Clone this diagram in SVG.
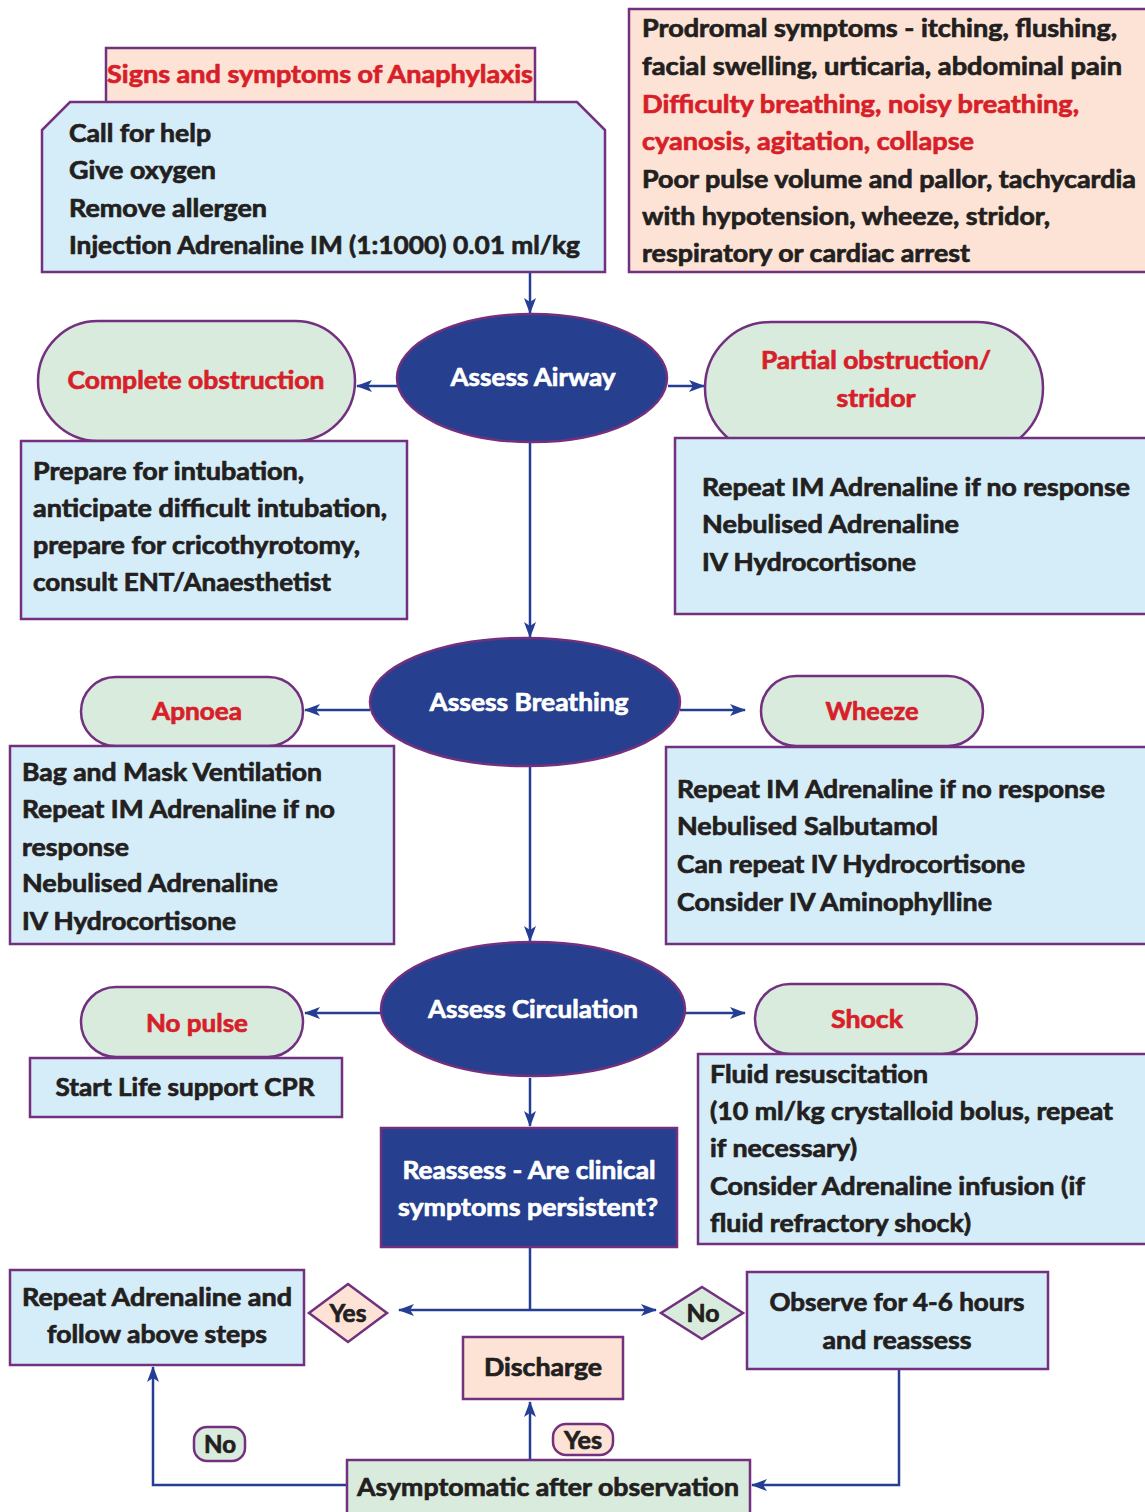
<svg xmlns="http://www.w3.org/2000/svg" width="1145" height="1512" viewBox="0 0 1145 1512">
  <defs>
    <marker id="arrow" viewBox="0 0 16 12" refX="15" refY="6" markerWidth="16" markerHeight="12" markerUnits="userSpaceOnUse" orient="auto">
      <path d="M0,0 L16,6 L0,12 L4,6 Z" fill="#233e93"/>
    </marker>
    <style>
      text { font-family: "Lato", "Liberation Sans", sans-serif; font-weight: 700; font-size: 24px; stroke-width: 0.7; stroke-linejoin: round; }
      .body { fill: #231f20; stroke: #231f20; }
      .red { fill: #d71f2a; stroke: #d71f2a; }
      .white { fill: #ffffff; stroke: #ffffff; }
      .mid { text-anchor: middle; }
      .box-blue { fill: #d5ecf9; stroke: #73307f; stroke-width: 2.5; }
      .box-green { fill: #d8ebdd; stroke: #73307f; stroke-width: 2.5; }
      .box-peach { fill: #fde3d5; stroke: #73307f; stroke-width: 2.5; }
      .box-dark { fill: #263f8e; stroke: #73307f; stroke-width: 2.5; }
      .link { fill: none; stroke: #233e93; stroke-width: 2.5; }
      .link-arrow { fill: none; stroke: #233e93; stroke-width: 2.5; marker-end: url(#arrow); }
    </style>
  </defs>
  <rect width="1145" height="1512" fill="#ffffff"/>

  <!-- connectors -->
  <g id="connectors">
    <path class="link-arrow" d="M530,272 V313"/>
    <path class="link-arrow" d="M398,386 H357"/>
    <path class="link-arrow" d="M668,386 H704"/>
    <path class="link-arrow" d="M530,443 V637"/>
    <path class="link-arrow" d="M370,710 H305"/>
    <path class="link-arrow" d="M680,710 H745"/>
    <path class="link-arrow" d="M530,766 V941"/>
    <path class="link-arrow" d="M381,1013 H305"/>
    <path class="link-arrow" d="M685,1013 H745"/>
    <path class="link-arrow" d="M530,1078 V1126"/>
    <path class="link" d="M530,1247 V1310"/>
    <path class="link-arrow" d="M530,1310 H399"/>
    <path class="link-arrow" d="M530,1310 H656"/>
    <path class="link-arrow" d="M530,1460 V1402"/>
    <path class="link-arrow" d="M347,1485 H153 V1367"/>
    <path class="link-arrow" d="M899,1370 V1485 H752"/>
  </g>

  <!-- header and first actions -->
  <g id="title">
    <rect class="box-peach" x="106" y="48" width="429" height="55"/>
    <text class="red mid" x="320" y="83" textLength="426" lengthAdjust="spacingAndGlyphs">Signs and symptoms of Anaphylaxis</text>
  </g>
  <g id="initial-actions">
    <path class="box-blue" d="M70,102 H577 L605,130 V272 H42 V130 Z"/>
    <text class="body" x="69" y="142" textLength="142" lengthAdjust="spacingAndGlyphs">Call for help</text>
    <text class="body" x="69" y="179" textLength="147" lengthAdjust="spacingAndGlyphs">Give oxygen</text>
    <text class="body" x="69" y="217" textLength="198" lengthAdjust="spacingAndGlyphs">Remove allergen</text>
    <text class="body" x="69" y="254" textLength="511" lengthAdjust="spacingAndGlyphs">Injection Adrenaline IM (1:1000) 0.01 ml/kg</text>
  </g>
  <g id="symptoms">
    <rect class="box-peach" x="629" y="9" width="520" height="263"/>
    <text class="body" x="642" y="37" textLength="475" lengthAdjust="spacingAndGlyphs">Prodromal symptoms - itching, flushing,</text>
    <text class="body" x="642" y="75" textLength="480" lengthAdjust="spacingAndGlyphs">facial swelling, urticaria, abdominal pain</text>
    <text class="red" x="642" y="113" textLength="437" lengthAdjust="spacingAndGlyphs">Difficulty breathing, noisy breathing,</text>
    <text class="red" x="642" y="150" textLength="332" lengthAdjust="spacingAndGlyphs">cyanosis, agitation, collapse</text>
    <text class="body" x="642" y="188" textLength="494" lengthAdjust="spacingAndGlyphs">Poor pulse volume and pallor, tachycardia</text>
    <text class="body" x="642" y="225" textLength="408" lengthAdjust="spacingAndGlyphs">with hypotension, wheeze, stridor,</text>
    <text class="body" x="642" y="262" textLength="328" lengthAdjust="spacingAndGlyphs">respiratory or cardiac arrest</text>
  </g>

  <!-- airway -->
  <g id="assess-airway">
    <ellipse class="box-dark" cx="532" cy="378" rx="135" ry="64"/>
    <text class="white mid" x="533" y="386" textLength="165" lengthAdjust="spacingAndGlyphs">Assess Airway</text>
  </g>
  <g id="complete-obstruction">
    <rect class="box-green" x="38" y="321" width="317" height="120" rx="60" ry="60"/>
    <text class="red mid" x="196" y="389" textLength="257" lengthAdjust="spacingAndGlyphs">Complete obstruction</text>
  </g>
  <g id="complete-obstruction-actions">
    <rect class="box-blue" x="21" y="441" width="386" height="178"/>
    <text class="body" x="33" y="480" textLength="271" lengthAdjust="spacingAndGlyphs">Prepare for intubation,</text>
    <text class="body" x="33" y="517" textLength="354" lengthAdjust="spacingAndGlyphs">anticipate difficult intubation,</text>
    <text class="body" x="33" y="554" textLength="327" lengthAdjust="spacingAndGlyphs">prepare for cricothyrotomy,</text>
    <text class="body" x="33" y="591" textLength="298" lengthAdjust="spacingAndGlyphs">consult ENT/Anaesthetist</text>
  </g>
  <g id="partial-obstruction">
    <rect class="box-green" x="705" y="322" width="338" height="132" rx="66" ry="66"/>
    <text class="red mid" x="876" y="369" textLength="230" lengthAdjust="spacingAndGlyphs">Partial obstruction/</text>
    <text class="red mid" x="876" y="407" textLength="79" lengthAdjust="spacingAndGlyphs">stridor</text>
  </g>
  <g id="partial-obstruction-actions">
    <rect class="box-blue" x="675" y="438" width="474" height="176"/>
    <text class="body" x="702" y="496" textLength="428" lengthAdjust="spacingAndGlyphs">Repeat IM Adrenaline if no response</text>
    <text class="body" x="702" y="533" textLength="257" lengthAdjust="spacingAndGlyphs">Nebulised Adrenaline</text>
    <text class="body" x="702" y="571" textLength="214" lengthAdjust="spacingAndGlyphs">IV Hydrocortisone</text>
  </g>

  <!-- breathing -->
  <g id="assess-breathing">
    <ellipse class="box-dark" cx="525" cy="702" rx="155" ry="64"/>
    <text class="white mid" x="529" y="711" textLength="199" lengthAdjust="spacingAndGlyphs">Assess Breathing</text>
  </g>
  <g id="apnoea">
    <rect class="box-green" x="81" y="677" width="222" height="69" rx="34.5" ry="34.5"/>
    <text class="red mid" x="197" y="720" textLength="90" lengthAdjust="spacingAndGlyphs">Apnoea</text>
  </g>
  <g id="apnoea-actions">
    <rect class="box-blue" x="10" y="746" width="384" height="198"/>
    <text class="body" x="22" y="781" textLength="300" lengthAdjust="spacingAndGlyphs">Bag and Mask Ventilation</text>
    <text class="body" x="22" y="818" textLength="313" lengthAdjust="spacingAndGlyphs">Repeat IM Adrenaline if no</text>
    <text class="body" x="22" y="856" textLength="107" lengthAdjust="spacingAndGlyphs">response</text>
    <text class="body" x="22" y="892" textLength="256" lengthAdjust="spacingAndGlyphs">Nebulised Adrenaline</text>
    <text class="body" x="22" y="930" textLength="214" lengthAdjust="spacingAndGlyphs">IV Hydrocortisone</text>
  </g>
  <g id="wheeze">
    <rect class="box-green" x="761" y="676" width="222" height="70" rx="35" ry="35"/>
    <text class="red mid" x="872" y="720" textLength="93" lengthAdjust="spacingAndGlyphs">Wheeze</text>
  </g>
  <g id="wheeze-actions">
    <rect class="box-blue" x="666" y="747" width="483" height="197"/>
    <text class="body" x="677" y="798" textLength="428" lengthAdjust="spacingAndGlyphs">Repeat IM Adrenaline if no response</text>
    <text class="body" x="677" y="835" textLength="261" lengthAdjust="spacingAndGlyphs">Nebulised Salbutamol</text>
    <text class="body" x="677" y="873" textLength="348" lengthAdjust="spacingAndGlyphs">Can repeat IV Hydrocortisone</text>
    <text class="body" x="677" y="911" textLength="315" lengthAdjust="spacingAndGlyphs">Consider IV Aminophylline</text>
  </g>

  <!-- circulation -->
  <g id="assess-circulation">
    <ellipse class="box-dark" cx="533" cy="1009" rx="152" ry="67"/>
    <text class="white mid" x="533" y="1018" textLength="210" lengthAdjust="spacingAndGlyphs">Assess Circulation</text>
  </g>
  <g id="no-pulse">
    <rect class="box-green" x="81" y="987" width="222" height="70" rx="35" ry="35"/>
    <text class="red mid" x="197" y="1032" textLength="102" lengthAdjust="spacingAndGlyphs">No pulse</text>
  </g>
  <g id="no-pulse-action">
    <rect class="box-blue" x="30" y="1058" width="312" height="59"/>
    <text class="body mid" x="185" y="1096" textLength="259" lengthAdjust="spacingAndGlyphs">Start Life support CPR</text>
  </g>
  <g id="shock">
    <rect class="box-green" x="755" y="984" width="222" height="70" rx="35" ry="35"/>
    <text class="red mid" x="867" y="1028" textLength="72" lengthAdjust="spacingAndGlyphs">Shock</text>
  </g>
  <g id="shock-actions">
    <rect class="box-blue" x="698" y="1054" width="451" height="190"/>
    <text class="body" x="710" y="1083" textLength="218" lengthAdjust="spacingAndGlyphs">Fluid resuscitation</text>
    <text class="body" x="710" y="1120" textLength="403" lengthAdjust="spacingAndGlyphs">(10 ml/kg crystalloid bolus, repeat</text>
    <text class="body" x="710" y="1157" textLength="147" lengthAdjust="spacingAndGlyphs">if necessary)</text>
    <text class="body" x="710" y="1195" textLength="375" lengthAdjust="spacingAndGlyphs">Consider Adrenaline infusion (if</text>
    <text class="body" x="710" y="1232" textLength="261" lengthAdjust="spacingAndGlyphs">fluid refractory shock)</text>
  </g>

  <!-- reassessment -->
  <g id="reassess">
    <rect class="box-dark" x="381" y="1128" width="296" height="119"/>
    <text class="white mid" x="529" y="1179" textLength="253" lengthAdjust="spacingAndGlyphs">Reassess - Are clinical</text>
    <text class="white mid" x="528" y="1216" textLength="260" lengthAdjust="spacingAndGlyphs">symptoms persistent?</text>
  </g>
  <g id="decision-yes">
    <path class="box-peach" d="M348,1284 L387,1313 L348,1342 L309,1313 Z"/>
    <text class="body mid" x="348" y="1322" textLength="37" lengthAdjust="spacingAndGlyphs">Yes</text>
  </g>
  <g id="decision-no">
    <path class="box-green" d="M702,1287 L743,1313 L702,1339 L661,1313 Z"/>
    <text class="body mid" x="703" y="1322" textLength="33" lengthAdjust="spacingAndGlyphs">No</text>
  </g>
  <g id="repeat-adrenaline">
    <rect class="box-blue" x="10" y="1270" width="294" height="95"/>
    <text class="body mid" x="157" y="1306" textLength="270" lengthAdjust="spacingAndGlyphs">Repeat Adrenaline and</text>
    <text class="body mid" x="157" y="1343" textLength="220" lengthAdjust="spacingAndGlyphs">follow above steps</text>
  </g>
  <g id="observe">
    <rect class="box-blue" x="747" y="1272" width="301" height="97"/>
    <text class="body mid" x="897" y="1311" textLength="255" lengthAdjust="spacingAndGlyphs">Observe for 4-6 hours</text>
    <text class="body mid" x="897" y="1349" textLength="149" lengthAdjust="spacingAndGlyphs">and reassess</text>
  </g>
  <g id="discharge">
    <rect class="box-peach" x="463" y="1337" width="160" height="62"/>
    <text class="body mid" x="543" y="1376" textLength="118" lengthAdjust="spacingAndGlyphs">Discharge</text>
  </g>
  <g id="label-yes">
    <rect class="box-peach" x="553" y="1424" width="60" height="31" rx="13" ry="13"/>
    <text class="body mid" x="583" y="1449" textLength="38" lengthAdjust="spacingAndGlyphs">Yes</text>
  </g>
  <g id="label-no">
    <rect class="box-green" x="194" y="1427" width="51" height="34" rx="13" ry="13"/>
    <text class="body mid" x="220" y="1453" textLength="32" lengthAdjust="spacingAndGlyphs">No</text>
  </g>
  <g id="asymptomatic">
    <rect class="box-green" x="347" y="1460" width="403" height="56"/>
    <text class="body mid" x="548" y="1496" textLength="382" lengthAdjust="spacingAndGlyphs">Asymptomatic after observation</text>
  </g>
</svg>
